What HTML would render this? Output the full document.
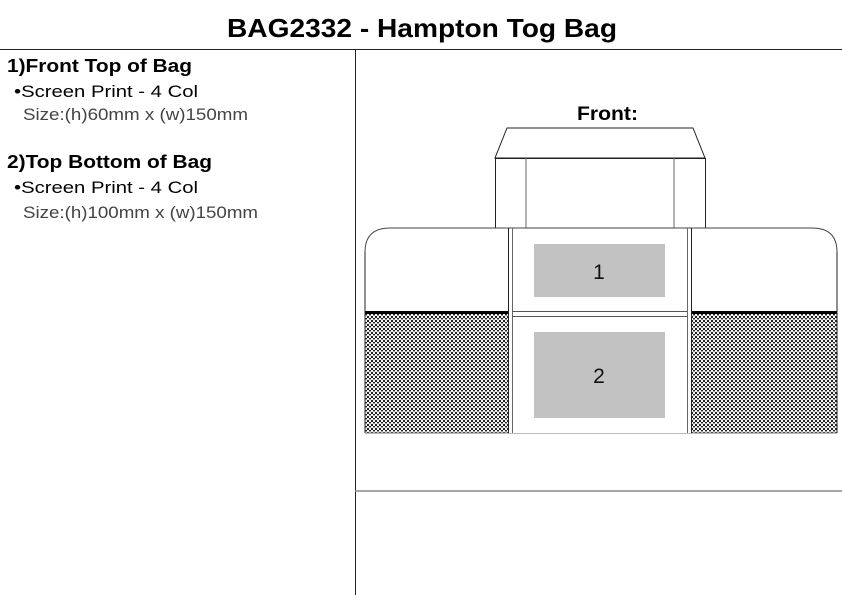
<!DOCTYPE html>
<html><head><meta charset="utf-8"><style>
body{margin:0;width:842px;height:595px;background:#fff;overflow:hidden;font-family:"Liberation Sans",Arial,sans-serif}
</style></head><body>
<svg width="842" height="595" viewBox="0 0 842 595" xmlns="http://www.w3.org/2000/svg" style="position:absolute;left:0;top:0">
<defs>
<pattern id="mesh" width="4" height="4" patternUnits="userSpaceOnUse">
<rect width="4" height="4" fill="#222"/>
<rect x="1" y="0" width="2" height="2" fill="#f4f4f4"/>
<rect x="3" y="2" width="1" height="2" fill="#f4f4f4"/>
<rect x="0" y="2" width="1" height="2" fill="#f4f4f4"/>
<rect x="1" y="3" width="2" height="1" fill="#999"/>
</pattern>
</defs>
<g font-family="Liberation Sans, Arial, sans-serif">
<text x="227" y="37" font-size="26" font-weight="bold" fill="#000" textLength="390" lengthAdjust="spacingAndGlyphs">BAG2332 - Hampton Tog Bag</text>
<line x1="0" y1="49.5" x2="842" y2="49.5" stroke="#222" stroke-width="1"/>
<line x1="355.5" y1="49" x2="355.5" y2="595" stroke="#222" stroke-width="1"/>
<line x1="355" y1="491" x2="842" y2="491" stroke="#888" stroke-width="1.5"/>

<text x="7" y="72" font-size="18" font-weight="bold" textLength="185" lengthAdjust="spacingAndGlyphs">1)Front Top of Bag</text>
<text x="14" y="97" font-size="17" textLength="184" lengthAdjust="spacingAndGlyphs">•Screen Print - 4 Col</text>
<text x="23" y="120" font-size="16.5" fill="#444" textLength="225" lengthAdjust="spacingAndGlyphs">Size:(h)60mm x (w)150mm</text>
<text x="7" y="168" font-size="18" font-weight="bold" textLength="205" lengthAdjust="spacingAndGlyphs">2)Top Bottom of Bag</text>
<text x="14" y="193" font-size="17" textLength="184" lengthAdjust="spacingAndGlyphs">•Screen Print - 4 Col</text>
<text x="23" y="218" font-size="16.5" fill="#444" textLength="235" lengthAdjust="spacingAndGlyphs">Size:(h)100mm x (w)150mm</text>

<text x="577" y="120" font-size="19" font-weight="bold" textLength="61" lengthAdjust="spacingAndGlyphs">Front:</text>

<polygon points="507,128 693,128 705,158 495,158" fill="#fff" stroke="#222" stroke-width="1"/>
<rect x="495.5" y="158.5" width="210" height="70" fill="#fff" stroke="#222" stroke-width="1"/>
<line x1="526" y1="158" x2="526" y2="229" stroke="#666" stroke-width="1"/>
<line x1="674" y1="158" x2="674" y2="229" stroke="#666" stroke-width="1"/>

<path d="M365,433 L365,252 Q365,228 390,228 L812,228 Q837,228 837,252 L837,433" fill="#fff" stroke="#444" stroke-width="1"/>
<rect x="365" y="314" width="143" height="119" fill="url(#mesh)"/>
<rect x="692" y="314" width="145" height="119" fill="url(#mesh)"/>
<rect x="365" y="311" width="143" height="3" fill="#000"/>
<rect x="692" y="311" width="145" height="3" fill="#000"/>
<line x1="365" y1="252" x2="365" y2="433" stroke="#222"/>
<line x1="837" y1="252" x2="837" y2="433" stroke="#222"/>
<line x1="365" y1="433" x2="837" y2="433" stroke="#777"/>

<rect x="508" y="229" width="183" height="204" fill="#fff"/>
<line x1="508.5" y1="228" x2="508.5" y2="433" stroke="#222"/>
<line x1="512.5" y1="228" x2="512.5" y2="433" stroke="#666"/>
<line x1="687.5" y1="228" x2="687.5" y2="433" stroke="#666"/>
<line x1="691.5" y1="228" x2="691.5" y2="433" stroke="#222"/>
<line x1="512" y1="311.5" x2="687" y2="311.5" stroke="#555"/>
<line x1="512" y1="316.5" x2="687" y2="316.5" stroke="#555"/>

<rect x="534" y="244" width="131" height="53" fill="#c2c2c2"/>
<rect x="534" y="332" width="131" height="86" fill="#c2c2c2"/>
<text x="599" y="279" text-anchor="middle" font-size="21" fill="#111">1</text>
<text x="599" y="383" text-anchor="middle" font-size="21" fill="#111">2</text>
</g>
</svg>
</body></html>
